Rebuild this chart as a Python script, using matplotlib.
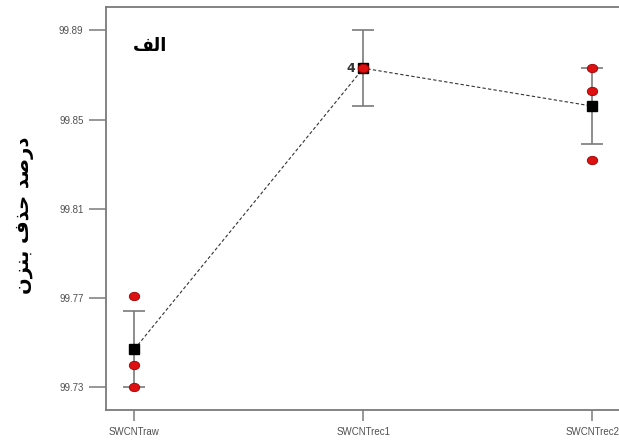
import matplotlib
matplotlib.use("Agg")
import matplotlib.pyplot as plt
from matplotlib.path import Path
from matplotlib.transforms import Affine2D

categories = ["SWCNTraw", "SWCNTrec1", "SWCNTrec2"]
obs_raw = [99.771, 99.740, 99.730]
obs_rec1 = [99.873, 99.873, 99.873]
obs_rec2 = [99.873, 99.863, 99.832]
means = [99.747, 99.873, 99.856]
half_ci = [0.017, 0.017, 0.017]
yticks = [99.73, 99.77, 99.81, 99.85, 99.89]
ytick_labels = ["99.73", "99.77", "99.81", "99.85", "99.89"]

# Persian text in visual order with presentation forms
ylabel_text = "\uFEE5\uFEB0\uFEE8\uFE91 \uFED1\uFEAC\uFEA3 \uFEAA\uFEBB\uFEAD\uFEA9"
panel_text = "\uFED2\uFEDF\uFE8D"
count_label = "4"

fig = plt.figure(figsize=(6.19, 4.44), dpi=100)
ax = fig.add_axes([105.7 / 619, 1 - 410 / 444, (621 - 105.7) / 619, (410 - 7.3) / 444])

grey = "#7a7a7a"
x = list(range(len(categories)))

ax.errorbar(x, means, yerr=half_ci, fmt="none", ecolor=grey, elinewidth=1.2,
            capsize=8, capthick=1.2, zorder=2)
ax.plot(x, means, color="#333333", linestyle=(0, (3, 2)), linewidth=0.8, zorder=3)
ax.plot(x, means, linestyle="none", marker="s", markersize=7.2,
        markerfacecolor="black", markeredgecolor="black", zorder=4)

ellipse = Path.unit_circle().transformed(Affine2D().scale(1.0, 0.8))
for i, obs in enumerate([obs_raw, obs_rec1, obs_rec2]):
    ax.plot([i] * len(obs), obs, linestyle="none", marker=ellipse, markersize=7.5,
            markerfacecolor="#dd1111", markeredgecolor="#990000", markeredgewidth=0.6,
            zorder=5)

ax.text(1 - 0.035, obs_rec1[0], count_label, ha="right", va="center", fontsize=9,
        fontweight="bold", color="#333333", family="DejaVu Sans")

ax.set_xlim(-0.125, 2.125)
ax.set_ylim(99.7198, 99.9003)
ax.set_xticks(x)
ax.set_xticklabels(categories, fontsize=7, color="#505050", family="Liberation Sans")
ax.set_yticks(yticks)
ax.set_yticklabels(ytick_labels, fontsize=7, color="#505050", family="Liberation Sans")
ax.tick_params(axis="y", direction="out", length=12, width=1.1, color=grey, pad=4)
ax.tick_params(axis="x", direction="out", length=8, width=1.1, color=grey, pad=4)

for s in ax.spines.values():
    s.set_color(grey)
    s.set_linewidth(1.3)

ax.text(0.052, 0.905, panel_text, transform=ax.transAxes, fontsize=13,
        fontweight="bold", family="DejaVu Sans", ha="left", va="center", color="black")

fig.text(25 / 619, 1 - 215 / 444, ylabel_text, rotation=90, fontsize=14,
         fontweight="bold", family="DejaVu Sans", ha="center", va="center")

fig.savefig("out.png", dpi=100)
